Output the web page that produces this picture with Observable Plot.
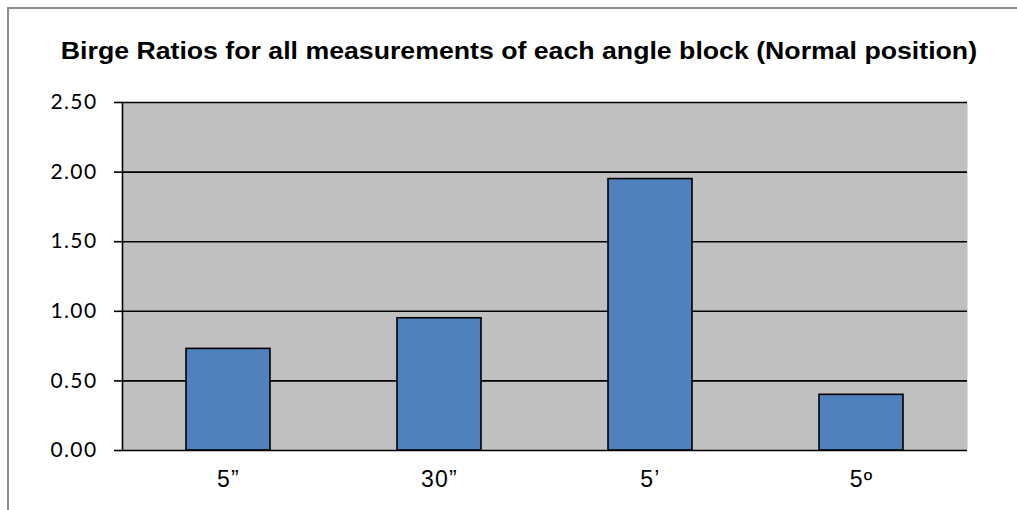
<!DOCTYPE html>
<html>
<head>
<meta charset="utf-8">
<script src="https://cdn.jsdelivr.net/npm/d3@7"></script>
<script src="https://cdn.jsdelivr.net/npm/@observablehq/plot@0.6"></script>
<style>
  html, body { margin: 0; padding: 0; background: #fff; overflow: hidden; }
  #wrap { position: relative; width: 1017px; height: 510px; overflow: hidden; }
  #frame { position: absolute; left: 7px; top: 7px; width: 1020px; height: 520px;
           border-left: 2px solid #8c8c8c; border-top: 2px solid #8c8c8c; box-sizing: border-box; }
  #title { position: absolute; left: 0; top: 38px; width: 1017px; padding-left: 20px; box-sizing: border-box;
           text-align: center; font-family: "Liberation Sans", Arial, sans-serif; font-weight: bold;
           font-size: 23px; line-height: 26px; color: #000; white-space: nowrap; }
  #title span { display: inline-block; transform: scaleX(1.16); transform-origin: center; }
  #chart { position: absolute; left: 0; top: 80px; }
  #chart g.ytl text { font-size: 21px !important; font-family: Lato, "Noto Sans", sans-serif !important; letter-spacing: 1.4px; }
  #chart g.xtl text { font-size: 23px !important; font-family: "Liberation Sans", Arial, sans-serif !important; letter-spacing: 1.2px; }
</style>
</head>
<body>
<div id="wrap">
  <div id="frame"></div>
  <div id="title"><span>Birge Ratios for all measurements of each angle block (Normal position)</span></div>
  <div id="chart"></div>
</div>
<script>
const categories = ["5\u201D", "30\u201D", "5\u2019", "5\u00BA"];
const birgeRatios = [0.73, 0.95, 1.95, 0.40];
const yTicks = [0, 0.5, 1.0, 1.5, 2.0, 2.5];

const data = categories.map((c, i) => ({category: c, value: birgeRatios[i]}));

const plot = Plot.plot({
  width: 1017,
  height: 430,
  marginTop: 22,
  marginBottom: 60,
  marginLeft: 122,
  marginRight: 50,
  style: {background: "transparent", overflow: "visible"},
  x: {domain: categories, paddingInner: 0.6, paddingOuter: 0.3, label: null},
  y: {domain: [0, 2.5], label: null},
  marks: [
    Plot.frame({fill: "#c0c0c0", stroke: null}),
    Plot.ruleY(yTicks, {stroke: "#000", strokeWidth: 1.6}),
    Plot.frame({anchor: "left", stroke: "#000", strokeWidth: 1.6}),
    Plot.barY(data, {x: "category", y: "value", fill: "#4f81bd", stroke: "#000", strokeWidth: 1.6}),
    Plot.axisY({ticks: yTicks, tickFormat: d3.format(".2f"), tickSize: 8, tickPadding: 17,
                stroke: "#000", strokeWidth: 1.6, strokeOpacity: 1, fill: "#000"}),
    Plot.axisX({tickSize: 0, tickPadding: 20, fill: "#000"}),
  ]
});
document.getElementById("chart").appendChild(plot);

d3.select(plot).selectAll('g[aria-label="y-axis tick label"]').classed("ytl", true);
d3.select(plot).selectAll('g[aria-label="x-axis tick label"]').classed("xtl", true);
</script>
</body>
</html>
